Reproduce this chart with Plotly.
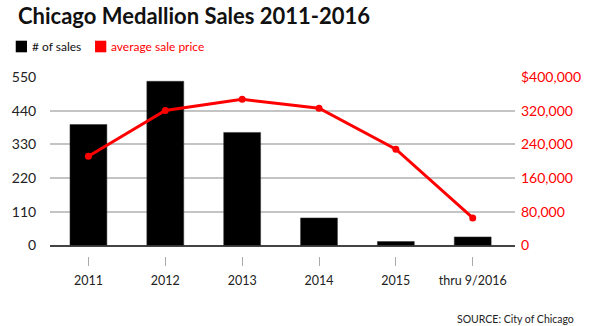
import plotly.graph_objects as go

categories = ["2011", "2012", "2013", "2014", "2015", "thru 9/2016"]
num_sales = [395, 536, 369, 90, 13, 28]
avg_price = [212000, 320500, 347000, 326000, 228500, 65500]

left_ticks = [0, 110, 220, 330, 440, 550]
right_ticks = [0, 80000, 160000, 240000, 320000, 400000]
right_ticktext = ["0", "80,000", "160,000", "240,000", "320,000", "$400,000"]

W, H = 600, 326
ML, MR, MT, MB = 40, 85, 77, 20
PW, PH = W - ML - MR, H - MT - MB


def px(x):
    return (x - ML) / PW


def py(y):
    return (H - MB - y) / PH


FONT = "Lato"
y_bottom = py(245.5)

fig = go.Figure()
fig.add_trace(go.Bar(
    x=list(range(len(categories))), y=num_sales, name="# of sales",
    marker=dict(color="#000000", line=dict(color="#333333", width=0.5)),
    width=0.48, yaxis="y", xaxis="x", showlegend=False,
))
fig.add_trace(go.Scatter(
    x=list(range(len(categories))), y=avg_price, name="average sale price",
    mode="lines+markers", line=dict(color="#ff0000", width=3),
    marker=dict(color="#ff0000", size=7), yaxis="y2", xaxis="x",
    showlegend=False,
))

fig.update_layout(
    width=W, height=H,
    margin=dict(l=ML, r=MR, t=MT, b=MB),
    paper_bgcolor="white", plot_bgcolor="white",
    font=dict(family=FONT, color="#222222", size=14),
    showlegend=False,
    xaxis=dict(
        range=[-0.5, 5.55], anchor="free", position=py(255.7),
        tickmode="array", tickvals=list(range(len(categories))),
        ticktext=categories, ticks="outside", ticklen=9, tickwidth=1,
        tickcolor="#aaaaaa", showline=False, showgrid=False, zeroline=False,
        tickfont=dict(family=FONT, size=12.5, color="#222222"),
        ticklabelstandoff=4,
    ),
    yaxis=dict(
        domain=[y_bottom, 1], range=[0, 550], tickvals=left_ticks,
        showgrid=True, gridcolor="#c4c4c4", gridwidth=1.5,
        zeroline=True, zerolinecolor="#444444", zerolinewidth=1.5,
        showline=False, ticks="outside", ticklen=10, tickcolor="rgba(0,0,0,0)",
        tickfont=dict(family=FONT, size=14, color="#222222"),
    ),
    yaxis2=dict(
        domain=[y_bottom, 1], range=[0, 400000], overlaying="y", side="right",
        anchor="x", tickvals=right_ticks, ticktext=right_ticktext,
        showgrid=False, zeroline=False, showline=False, ticks="",
        ticklabelstandoff=5,
        tickfont=dict(family=FONT, size=14, color="#ff0000"),
    ),
    shapes=[
        dict(type="rect", xref="paper", yref="paper",
             x0=px(5), x1=px(16.5), y0=py(52.3), y1=py(40.7),
             fillcolor="#000000", line=dict(width=0)),
        dict(type="rect", xref="paper", yref="paper",
             x0=px(86), x1=px(97.5), y0=py(52.3), y1=py(40.7),
             fillcolor="#ff0000", line=dict(width=0)),
    ],
    annotations=[
        dict(text="Chicago Medallion Sales 2011-2016", xref="paper", yref="paper",
             x=px(5), y=py(16), xanchor="left", yanchor="middle", showarrow=False,
             font=dict(family=FONT, size=22, color="#111111", weight=700)),
        dict(text="# of sales", xref="paper", yref="paper",
             x=px(20), y=py(46.5), xanchor="left", yanchor="middle", showarrow=False,
             font=dict(family=FONT, size=12, color="#111111")),
        dict(text="average sale price", xref="paper", yref="paper",
             x=px(100), y=py(46.5), xanchor="left", yanchor="middle", showarrow=False,
             font=dict(family=FONT, size=12, color="#ff0000")),
        dict(text="SOURCE: City of Chicago", xref="paper", yref="paper",
             x=px(577), y=py(318.5), xanchor="right", yanchor="middle", showarrow=False,
             font=dict(family=FONT, size=10.5, color="#222222")),
    ],
)

fig.write_html("out.html")
